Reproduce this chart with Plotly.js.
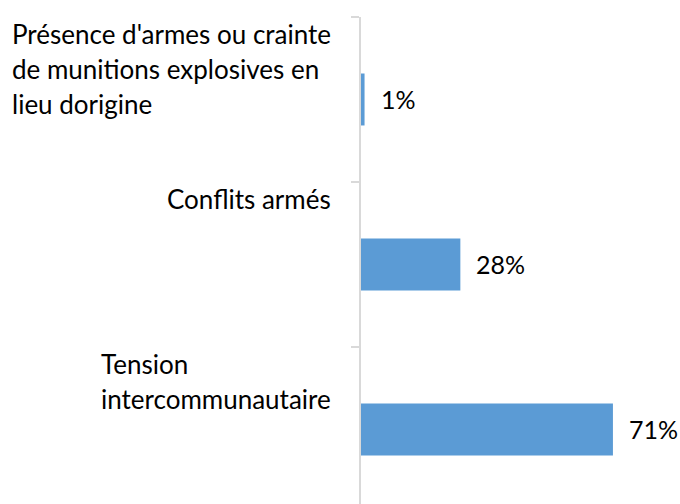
<!DOCTYPE html>
<html>
<head>
<meta charset="utf-8">
<script src="https://cdn.plot.ly/plotly-3.0.1.min.js"></script>
<style>html,body{margin:0;padding:0;background:#fff;}</style>
</head>
<body>
<div id="chart" style="width:680px;height:504px;"></div>
<script>
const categories = [
  "Présence d'armes ou crainte<br>de munitions explosives en<br>lieu dorigine",
  "Conflits armés",
  "Tension<br>intercommunautaire"
];
const values = [1, 28, 71];
const valueLabels = ["1%", "28%", "71%"];

const FONT = "Lato, 'Open Sans', sans-serif";
const catIdx = categories.map((c, i) => i);

const trace = {
  type: "bar",
  orientation: "h",
  y: catIdx,
  x: values,
  marker: {color: "#5B9BD5", line: {width: 0}},
  hoverinfo: "none"
};

const annotations = [];
categories.forEach((c, i) => {
  annotations.push({
    xref: "paper", yref: "y", x: 0, y: i - 0.5,
    xanchor: "right", yanchor: "top", xshift: -28, yshift: 1,
    align: "left", showarrow: false,
    text: '<span style="font-size:26px">' + c + '</span>',
    font: {family: FONT, size: 27, color: "#000"}
  });
  annotations.push({
    xref: "x", yref: "y", x: values[i], y: i,
    xanchor: "left", yanchor: "middle", xshift: 14,
    showarrow: false, text: valueLabels[i],
    font: {family: FONT, size: 25, color: "#000"}
  });
});

const layout = {
  width: 680, height: 504,
  margin: {l: 361, r: 0, t: 17, b: 0, pad: 0},
  paper_bgcolor: "#fff", plot_bgcolor: "#fff",
  showlegend: false,
  bargap: 0.685,
  xaxis: {range: [0, 89.9], visible: false, showgrid: false, zeroline: false, fixedrange: true},
  yaxis: {
    type: "linear",
    range: [2.452, -0.5],
    showgrid: false, zeroline: false,
    showline: true, linecolor: "#d9d9d9", linewidth: 2,
    ticks: "outside", tickmode: "array", tickvals: [-0.5, 0.5, 1.5, 2.5],
    ticklen: 8, tickwidth: 2, tickcolor: "#d9d9d9",
    showticklabels: false, fixedrange: true
  },
  annotations: annotations,
  font: {family: FONT}
};

Plotly.newPlot("chart", [trace], layout, {displayModeBar: false, staticPlot: true});
</script>
</body>
</html>
